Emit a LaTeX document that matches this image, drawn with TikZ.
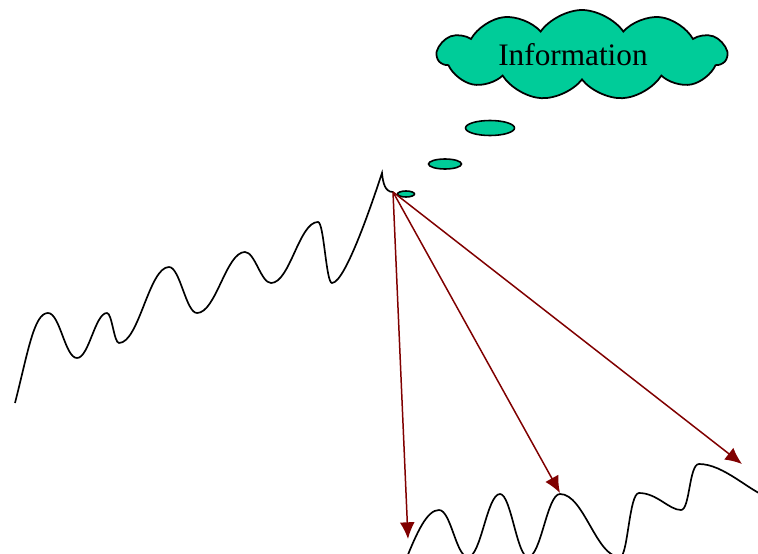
\documentclass[tikz,border=0pt]{standalone}
\usepackage{fontspec}
\setmainfont{Liberation Serif}
\usetikzlibrary{shapes, arrows.meta}
\definecolor{cloudgreen}{RGB}{0,204,153}
\definecolor{arrowred}{RGB}{128,0,0}
\tikzstyle{bubble} = [ellipse, draw, fill=cloudgreen, line width=0.9pt, inner sep=0pt]
\tikzstyle{thought} = [cloud, cloud puffs=11, cloud puff arc=110, aspect=3.2, draw, fill=cloudgreen, line width=1pt, minimum width=5.78cm, minimum height=1.8cm, inner sep=0pt]
\tikzstyle{wave} = [draw, line width=0.95pt]
\tikzstyle{jump} = [draw, arrowred, line width=0.85pt, -{Latex[length=9.5pt,width=8.5pt]}]

\begin{document}
\begin{tikzpicture}[x=0.02cm, y=-0.02cm]
	\clip (0,0) rectangle (758,554);
	\node [thought] (info) at (582,55) {\fontsize{17.8}{20}\selectfont\kern-0.36cm Information};
	\node [bubble, minimum width=0.98cm, minimum height=0.3cm] (b3) at (490,128) {};
	\node [bubble, minimum width=0.66cm, minimum height=0.2cm] (b2) at (445,164) {};
	\node [bubble, minimum width=0.34cm, minimum height=0.12cm] (b1) at (406,194) {};
	
	\coordinate (now) at (393,192);
	\coordinate (hit1) at (408,539);
	\coordinate (hit2) at (560,493);
	\coordinate (hit3) at (742,464);
	
	% curve up to now
	\path [wave] (15,403) .. controls (28,352) and (34,313) .. (48,313)
		.. controls +(12,0) and +(-12,0) .. (77,358)
		.. controls +(12,0) and +(-12,0) .. (107,313)
		.. controls +(5,0) and +(-5,0) .. (119,343)
		.. controls +(20,0) and +(-20,0) .. (169,267)
		.. controls +(11,0) and +(-11,0) .. (197,313)
		.. controls +(19,0) and +(-19,0) .. (245,252)
		.. controls +(10,0) and +(-10,0) .. (271,283)
		.. controls +(19,0) and +(-19,0) .. (318,222)
		.. controls +(6,0) and +(-6,0) .. (332,283)
		.. controls +(14,0) and +(-6,18) .. (382,173)
		.. controls +(1,10) and +(-8,0) .. (now);
	
	% curve after the jump
	\path [wave] (405,562) .. controls +(12,-30) and +(-12,0) .. (439,510)
		.. controls +(12,0) and +(-12,0) .. (468,557)
		.. controls +(13,0) and +(-13,0) .. (500,494)
		.. controls +(11,0) and +(-11,0) .. (528,557)
		.. controls +(13,0) and +(-13,0) .. (560,494)
		.. controls +(24,0) and +(-24,0) .. (620,557)
		.. controls +(8,0) and +(-10,0) .. (639,493)
		.. controls +(18,0) and +(-12,0) .. (681,510)
		.. controls +(9,0) and +(-10,0) .. (699,464)
		.. controls +(25,0) and +(-20,-6) .. (770,498);
	
	\path [jump] (now) -- (hit1);
	\path [jump] (now) -- (hit2);
	\path [jump] (now) -- (hit3);
\end{tikzpicture}
\end{document}
